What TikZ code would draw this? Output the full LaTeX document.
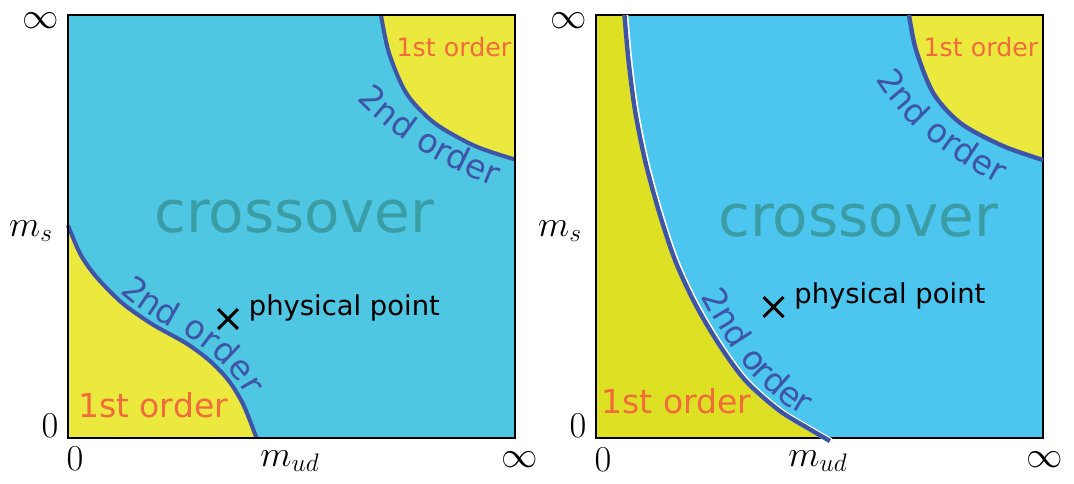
\documentclass[tikz,border=0pt]{standalone}
\usepackage{fontspec}
\newfontfamily\dejavu{DejaVu Sans}
\newcommand\secondfont{\dejavu\fontsize{19}{19}\selectfont}
\usetikzlibrary{positioning,shapes.misc,decorations.text}
\definecolor{CrossBlue}{HTML}{4FC7E3}
\definecolor{CrossBlueB}{HTML}{4CC6EE}
\definecolor{FirstYellow}{HTML}{EBE83E}
\definecolor{FirstLime}{HTML}{DEE024}
\definecolor{LineBlue}{HTML}{3E54A6}
\definecolor{OrderOrange}{HTML}{F26B3A}
\definecolor{CrossTeal}{HTML}{3A9CA5}
\tikzset{
  critline/.style={LineBlue,line width=2.3pt},
  frame/.style={draw=black,line width=1.1pt},
  crosslabel/.style={CrossTeal,inner sep=0pt,font=\dejavu\fontsize{33}{33}\selectfont},
  firstbig/.style={OrderOrange,inner sep=0pt,anchor=base,font=\dejavu\fontsize{18.8}{19}\selectfont},
  firstsmall/.style={OrderOrange,inner sep=0pt,anchor=base,font=\dejavu\fontsize{14.4}{15}\selectfont},
  secondlabel/.style={decorate,decoration={text along path,text={|\secondfont|2nd order},text color=LineBlue,text align={left indent=#1}}},
  physlabel/.style={inner sep=0pt,anchor=base west,font=\dejavu\fontsize{15.6}{16}\selectfont},
  ppmark/.style={cross out,draw,line width=1.7pt,inner sep=0pt,minimum size=0.34cm},
  axislabel/.style={inner sep=0pt,font=\huge}
}
\begin{document}
\begin{tikzpicture}
  \useasboundingbox (0,0) rectangle (21.48,9.66);

  \begin{scope}[shift={(1.36,0.9)}]
    \begin{scope}
      \clip (0,0) rectangle (8.94,8.46);
      \fill[CrossBlue] (0,0) rectangle (8.94,8.46);
      \fill[FirstYellow] (0,0) -- plot[smooth] coordinates {(0,4.25) (0.24,3.69) (0.51,3.29) (0.84,2.93) (1.17,2.63) (1.71,2.26) (2.37,1.89) (2.84,1.54) (3.22,1.14) (3.51,0.66) (3.77,0)} -- cycle;
      \fill[FirstYellow] (8.94,8.46) -- plot[smooth] coordinates {(6.26,8.46) (6.42,7.70) (6.77,6.89) (7.33,6.30) (8.14,5.84) (8.94,5.57)} -- cycle;
    \end{scope}
    \draw[critline] plot[smooth] coordinates {(0,4.25) (0.24,3.69) (0.51,3.29) (0.84,2.93) (1.17,2.63) (1.71,2.26) (2.37,1.89) (2.84,1.54) (3.22,1.14) (3.51,0.66) (3.77,0)};
    \draw[critline] plot[smooth] coordinates {(6.26,8.46) (6.42,7.70) (6.77,6.89) (7.33,6.30) (8.14,5.84) (8.94,5.57)};
    \draw[frame] (0,0) rectangle (8.94,8.46);

    \path[secondlabel=1.75cm,decoration={raise=3.5pt}] plot[smooth] coordinates {(0,4.25) (0.24,3.69) (0.51,3.29) (0.84,2.93) (1.17,2.63) (1.71,2.26) (2.37,1.89) (2.84,1.54) (3.22,1.14) (3.51,0.66) (3.77,0)};
    \path[secondlabel=0.05cm] (5.74,6.80) .. controls (6.3,6.2) and (7.3,5.4) .. (9.2,4.8);

    \node[crosslabel] (Lcross) at (4.52,4.42) {crossover};
    \node[firstbig] (Lfirstlow) at (1.70,0.42) {1st order};
    \node[firstsmall] (Lfirsttop) at (7.72,7.64) {1st order};
    \node[ppmark] (Lpp) at (3.20,2.38) {};
    \node[physlabel] (Lpplabel) at ([xshift=0.21cm,yshift=0.08cm]Lpp.east) {physical point};

    \node[axislabel] (Linftop) at (-0.54,8.34) {$\infty$};
    \node[axislabel,anchor=base] (Lms) at (-0.74,4.04) {$m_s$};
    \node[axislabel] (Lzeroleft) at (-0.36,0.24) {$0$};
    \node[axislabel] (Lzerobottom) at (0.14,-0.42) {$0$};
    \node[axislabel,anchor=base] (Lmud) at (4.44,-0.56) {$m_{ud}$};
    \node[axislabel] (Linfright) at (9.04,-0.44) {$\infty$};
  \end{scope}

  \begin{scope}[shift={(11.92,0.9)}]
    \begin{scope}
      \clip (0,0) rectangle (8.94,8.46);
      \fill[CrossBlueB] (0,0) rectangle (8.94,8.46);
      \fill[FirstLime] (0,0) -- (0,8.46) -- plot[smooth] coordinates {(0.59,8.46) (0.67,7.56) (0.80,6.56) (1.00,5.56) (1.27,4.56) (1.60,3.56) (2.00,2.69) (2.47,1.89) (3.00,1.16) (3.67,0.56) (4.27,0.19) (4.70,-0.06)} -- cycle;
      \fill[FirstYellow] (8.94,8.46) -- plot[smooth] coordinates {(6.26,8.46) (6.40,7.76) (6.75,6.89) (7.30,6.29) (8.14,5.84) (8.94,5.56)} -- cycle;
    \end{scope}
    \draw[frame] (0,0) rectangle (8.94,8.46);
    \draw[white,line width=3.2pt] plot[smooth] coordinates {(0.59,8.46) (0.67,7.56) (0.80,6.56) (1.00,5.56) (1.27,4.56) (1.60,3.56) (2.00,2.69) (2.47,1.89) (3.00,1.16) (3.67,0.56) (4.27,0.19) (4.70,-0.06)};
    \draw[critline,line width=2.5pt,xshift=-0.6pt] plot[smooth] coordinates {(0.59,8.46) (0.67,7.56) (0.80,6.56) (1.00,5.56) (1.27,4.56) (1.60,3.56) (2.00,2.69) (2.47,1.89) (3.00,1.16) (3.67,0.56) (4.27,0.19) (4.70,-0.06)};
    \draw[critline,line width=2.5pt] plot[smooth] coordinates {(6.26,8.46) (6.40,7.76) (6.75,6.89) (7.30,6.29) (8.14,5.84) (8.94,5.56)};

    \path[secondlabel=5.9cm,decoration={raise=4.5pt}] plot[smooth] coordinates {(0.59,8.46) (0.67,7.56) (0.80,6.56) (1.00,5.56) (1.27,4.56) (1.60,3.56) (2.00,2.69) (2.47,1.89) (3.00,1.16) (3.67,0.56) (4.27,0.19) (4.70,-0.06)};
    \path[secondlabel=0.05cm] (5.56,7.22) .. controls (5.95,6.55) and (6.8,5.6) .. (8.8,4.7);

    \node[crosslabel] (Rcross) at (5.24,4.34) {crossover};
    \node[firstbig] (Rfirstlow) at (1.61,0.50) {1st order};
    \node[firstsmall] (Rfirsttop) at (7.70,7.64) {1st order};
    \node[ppmark] (Rpp) at (3.55,2.62) {};
    \node[physlabel] (Rpplabel) at ([xshift=0.21cm,yshift=0.08cm]Rpp.east) {physical point};

    \node[axislabel] (Rinftop) at (-0.54,8.34) {$\infty$};
    \node[axislabel,anchor=base] (Rms) at (-0.72,4.04) {$m_s$};
    \node[axislabel] (Rzeroleft) at (-0.36,0.24) {$0$};
    \node[axislabel] (Rzerobottom) at (0.14,-0.44) {$0$};
    \node[axislabel,anchor=base] (Rmud) at (4.44,-0.56) {$m_{ud}$};
    \node[axislabel] (Rinfright) at (8.98,-0.44) {$\infty$};
  \end{scope}
\end{tikzpicture}
\end{document}
